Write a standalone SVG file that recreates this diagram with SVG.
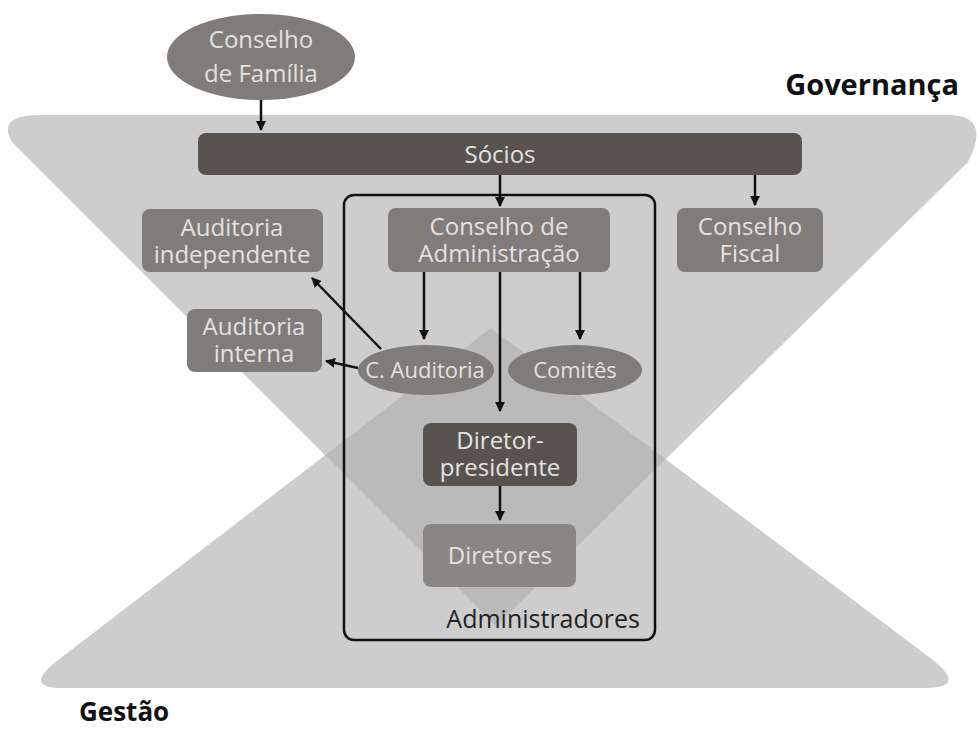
<svg xmlns="http://www.w3.org/2000/svg" width="977" height="731" viewBox="0 0 977 731">
  <style>
    .lbl { font-family: "Open Sans", "Liberation Sans", sans-serif; font-size: 24px; fill: #e2e2e2; text-anchor: middle; }
    .sm { font-size: 22px; }
    .mid { fill: #807c79; }
    .dark { fill: #58534f; }
    .light { fill: #8a8683; }
    .edge { stroke: #111; stroke-width: 2.5; fill: none; marker-end: url(#arrow); }
    .title { font-family: "Open Sans", "Liberation Sans", sans-serif; font-weight: bold; fill: #111; }
  </style>
  <defs>
    <marker id="arrow" viewBox="0 0 10 10" refX="9" refY="5" markerWidth="4" markerHeight="4" orient="auto" markerUnits="strokeWidth">
      <path d="M0,0 L10,5 L0,10 Z" fill="#111"/>
    </marker>
    <!-- governance band: inverted triangle with rounded top corners -->
    <path id="govShape" d="M40,115 L948,115 Q992,115 968,162 L496,626 L12,142 Q-4,115 40,115 Z"/>
    <!-- management band: upright triangle with rounded base corners -->
    <path id="gesShape" d="M491,328 L929,657 Q970,688 925,688 L62,688 Q20,688 62,657 Z"/>
    <clipPath id="govClip"><use href="#govShape"/></clipPath>
  </defs>

  <rect width="977" height="731" fill="#ffffff"/>

  <!-- background bands and their overlap -->
  <g id="bands">
    <use href="#govShape" fill="#cdcdcd"/>
    <use href="#gesShape" fill="#cdcdcd"/>
    <use href="#gesShape" fill="#bababa" clip-path="url(#govClip)"/>
  </g>

  <text class="title" x="959" y="95" font-size="29" text-anchor="end">Governança</text>
  <text class="title" x="79" y="721" font-size="26">Gestão</text>

  <!-- administrators frame -->
  <g id="administradores">
    <rect x="344" y="195" width="311" height="445" rx="10" fill="none" stroke="#111" stroke-width="2.5"/>
    <text x="640" y="628" text-anchor="end" font-family="Open Sans, Liberation Sans, sans-serif" font-size="25" fill="#222">Administradores</text>
  </g>

  <g id="conselho-familia">
    <ellipse cx="261" cy="57" rx="94" ry="43" class="mid"/>
    <text class="lbl" x="261" y="48" font-size="25">Conselho</text>
    <text class="lbl" x="261" y="82" font-size="25">de Família</text>
  </g>

  <g id="socios">
    <rect x="198" y="133" width="604" height="42" rx="8" class="dark"/>
    <text class="lbl" x="500" y="163" font-size="25">Sócios</text>
  </g>

  <g id="auditoria-independente">
    <rect x="142" y="209" width="181" height="63" rx="8" class="mid"/>
    <text class="lbl" x="232" y="236">Auditoria</text>
    <text class="lbl" x="232" y="263">independente</text>
  </g>

  <g id="conselho-administracao">
    <rect x="388" y="208" width="222" height="64" rx="8" class="mid"/>
    <text class="lbl" x="499" y="235">Conselho de</text>
    <text class="lbl" x="499" y="262">Administração</text>
  </g>

  <g id="conselho-fiscal">
    <rect x="677" y="208" width="146" height="64" rx="8" class="mid"/>
    <text class="lbl" x="750" y="235">Conselho</text>
    <text class="lbl" x="750" y="262">Fiscal</text>
  </g>

  <g id="auditoria-interna">
    <rect x="187" y="309" width="135" height="63" rx="8" class="mid"/>
    <text class="lbl" x="254" y="335">Auditoria</text>
    <text class="lbl" x="254" y="362">interna</text>
  </g>

  <g id="c-auditoria">
    <ellipse cx="426" cy="370" rx="68" ry="25" class="mid"/>
    <text class="lbl sm" x="425" y="378">C. Auditoria</text>
  </g>

  <g id="comites">
    <ellipse cx="575" cy="370" rx="67" ry="25" class="mid"/>
    <text class="lbl sm" x="575" y="378">Comitês</text>
  </g>

  <g id="diretor-presidente">
    <rect x="423" y="423" width="154" height="63" rx="8" class="dark"/>
    <text class="lbl" x="500" y="449">Diretor-</text>
    <text class="lbl" x="500" y="476">presidente</text>
  </g>

  <g id="diretores">
    <rect x="423" y="524" width="153" height="63" rx="8" class="light"/>
    <text class="lbl" x="500" y="564">Diretores</text>
  </g>

  <!-- connectors -->
  <g id="connectors">
    <line class="edge" x1="261" y1="100" x2="261" y2="130"/>
    <line class="edge" x1="500" y1="175" x2="500" y2="206"/>
    <line class="edge" x1="755" y1="175" x2="755" y2="205"/>
    <line class="edge" x1="424" y1="272" x2="424" y2="339"/>
    <line class="edge" x1="580" y1="272" x2="580" y2="339"/>
    <line class="edge" x1="500" y1="272" x2="500" y2="411"/>
    <line class="edge" x1="500" y1="486" x2="500" y2="520"/>
    <line class="edge" x1="358" y1="368" x2="326" y2="361"/>
    <line class="edge" x1="381" y1="349" x2="312" y2="278"/>
  </g>
</svg>
